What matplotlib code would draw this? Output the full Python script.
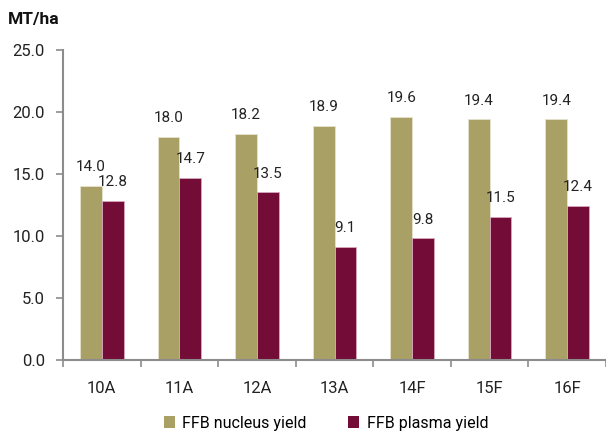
import matplotlib
matplotlib.use("Agg")
import matplotlib.pyplot as plt
import numpy as np
from matplotlib.patches import Patch

plt.rcParams['font.family'] = ['Roboto', 'DejaVu Sans']

categories = ["10A", "11A", "12A", "13A", "14F", "15F", "16F"]
nucleus = [14.0, 18.0, 18.2, 18.9, 19.6, 19.4, 19.4]
plasma = [12.8, 14.7, 13.5, 9.1, 9.8, 11.5, 12.4]
yticks = [0.0, 5.0, 10.0, 15.0, 20.0, 25.0]

c_nuc = "#A9A066"
c_pla = "#730C36"
axis_grey = "#8C8C8C"
txt = "#222222"

fig = plt.figure(figsize=(6.06, 4.34), dpi=100)
ax = fig.add_axes([0.104, 0.171, 0.896, 0.714])

x = np.arange(len(categories))
w = 0.28
ax.bar(x - w / 2, nucleus, w, color=c_nuc, edgecolor="#E6E2CC", linewidth=0.6)
ax.bar(x + w / 2, plasma, w, color=c_pla, edgecolor="#D9A8BC", linewidth=0.6)

for xi, v in zip(x, nucleus):
    ax.text(xi - w / 2, v + 0.95, f"{v:.1f}", ha="center", va="bottom",
            fontsize=11, color=txt)
for xi, v in zip(x, plasma):
    ax.text(xi + w / 2, v + 0.95, f"{v:.1f}", ha="center", va="bottom",
            fontsize=11, color=txt)

ax.set_xlim(-0.5, len(categories) - 0.5)
ax.set_ylim(0, 25)
ax.set_yticks(yticks)
ax.set_yticklabels([f"{t:.1f}" for t in yticks], fontsize=12, color=txt)
ax.set_xticks(x)
ax.set_xticklabels(categories, fontsize=12, color=txt)
ax.tick_params(axis="x", length=0, pad=15)
ax.set_xticks(np.arange(len(categories) + 1) - 0.5, minor=True)
ax.tick_params(axis="x", which="minor", length=5, color=axis_grey, width=1.2)
ax.tick_params(axis="y", length=5, color=axis_grey, width=1.2, pad=8)

for s in ["top", "right"]:
    ax.spines[s].set_visible(False)
for s in ["left", "bottom"]:
    ax.spines[s].set_color(axis_grey)
    ax.spines[s].set_linewidth(1.5)

fig.text(0.013, 0.955, "MT/ha", fontsize=12.5, fontweight="bold", color="#111111",
         va="center", ha="left")

handles = [Patch(facecolor=c_nuc, label="FFB nucleus yield"),
           Patch(facecolor=c_pla, label="FFB plasma yield")]
fig.legend(handles=handles, loc="center", bbox_to_anchor=(0.538, 0.025),
           ncol=2, frameon=False, fontsize=11.5, handlelength=0.7,
           handleheight=0.7, handletextpad=0.45, columnspacing=2.6)

fig.savefig("out.png", dpi=100)
